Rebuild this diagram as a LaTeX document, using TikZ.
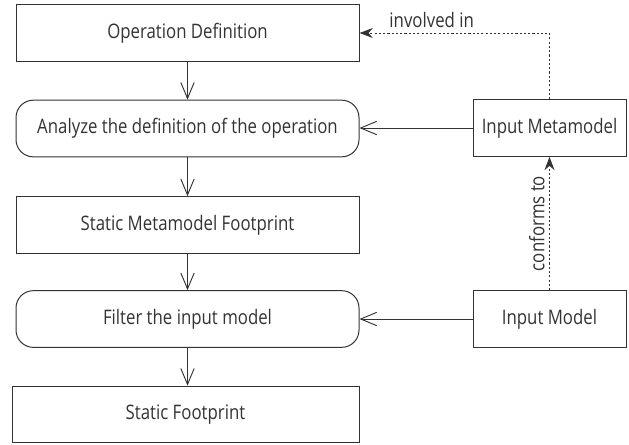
\documentclass[tikz,border=0pt]{standalone}
\usepackage{fontspec}
\setmainfont{Open Sans}[FakeStretch=0.84]
\usetikzlibrary{arrows.meta}
\definecolor{ink}{HTML}{333333}
\begin{document}
\begin{tikzpicture}[x=0.75pt,y=-0.75pt,
  every node/.style={text=ink,font=\fontsize{15}{18}\selectfont},
  boxnode/.style={draw=ink,line width=0.75pt,inner sep=0pt,minimum height=42.5pt},
  wide/.style={boxnode,minimum width=257.25pt},
  roundbox/.style={wide,rounded corners=13pt},
  side/.style={boxnode,minimum width=114.75pt},
  flow/.style={draw=ink,line width=0.7pt,-{Straight Barb[length=12pt,width=10pt,line width=0.7pt]}},
  dep/.style={draw=ink,line width=0.75pt,dash pattern=on 1.6pt off 1.6pt,-{Stealth[length=10pt,width=7.5pt]}}]
\useasboundingbox (0,0) rectangle (629,444);
\node[wide] (op) at (187.5,33) {Operation Definition};
\node[roundbox] (an) at (187.5,128.5) {Analyze the definition of the operation};
\node[wide] (smf) at (187.5,225) {Static Metamodel Footprint};
\node[roundbox] (fil) at (187.5,319) {Filter the input model};
\node[boxnode,minimum width=260.25pt] (sf) at (185.5,414.5) {Static Footprint};
\node[side] (imm) at (549.5,128) {Input Metamodel};
\node[side] (im) at (549.5,319) {Input Model};
\draw[flow] (op) -- (an);
\draw[flow] (an) -- (smf);
\draw[flow] (smf) -- (fil);
\draw[flow] (fil) -- (sf.north -| fil.south);
\draw[flow] (imm) -- (an.east |- imm.west);
\draw[flow] (im) -- (fil);
\draw[dep] (imm.north) |- node[pos=0.81,above,yshift=0pt] (lab1) {involved in} (op.east);
\draw[dep] (im.north) -- node[midway,sloped,above] (lab2) {conforms to} (imm.south);
\end{tikzpicture}
\end{document}
